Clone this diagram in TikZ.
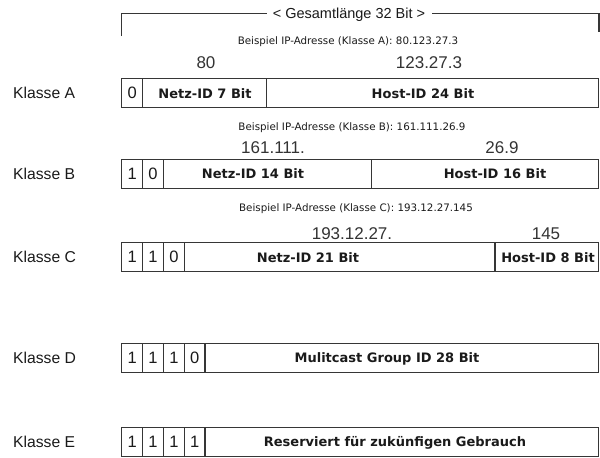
\documentclass[tikz,border=0pt]{standalone}
\usepackage{fontspec}
\setmainfont{Liberation Sans}
\newfontfamily\dvs{DejaVu Sans}
\definecolor{linec}{HTML}{363636}
\definecolor{txtc}{HTML}{1A1A1A}
\definecolor{numc}{HTML}{333333}
\tikzset{
 seg/.style={draw=linec, line width=1.35pt, minimum height=29pt, inner sep=0pt, outer sep=0pt, anchor=north west},
 bit/.style={font=\fontsize{16.5}{19}\selectfont, text=txtc, inner sep=0pt},
 klasse/.style={font=\fontsize{15.7}{18}\selectfont, anchor=base west, inner sep=0pt, text=txtc},
 fld/.style={font=\dvs\bfseries\fontsize{13}{15}\selectfont, inner sep=0pt, text=txtc, anchor=base},
 bsp/.style={font=\dvs\fontsize{10.3}{12}\selectfont, inner sep=0pt, text=txtc, anchor=base},
 num/.style={font=\fontsize{17}{20}\selectfont, inner sep=0pt, text=numc, anchor=base},
 brk/.style={draw=linec, line width=1.35pt},
}
\newcommand\ipseg[5]{\node[seg, minimum width={#3-#2}] (#1) at (#2,#4) {};
  \node[bit] (#1t) at ({(#2+#3)/2},{#4+14.5}) {#5};}
\newcommand\ipfld[4]{\node[seg, minimum width={#3-#2}] (#1) at (#2,#4) {};}
\begin{document}
\begin{tikzpicture}[x=1pt,y=-1pt]
\useasboundingbox (0,0) rectangle (600,458);
% bracket
\node[font=\fontsize{14.5}{17}\selectfont, inner sep=0pt, anchor=base, text=txtc] (title) at (349,18.2) {< Gesamtlänge 32 Bit >};
\coordinate (bl) at (121.7,36);
\coordinate (tl) at (121.7,13.3);
\coordinate (tr) at (599,13.3);
\coordinate (br) at (599,32);
\draw[brk] (bl) -- (tl) -- ([xshift=-6pt]tl -| title.west);
\draw[brk] ([xshift=7pt]tr -| title.east) -- (tr) -- (br);
% Klasse A
\node[bsp] (bspA) at (348,44.7) {Beispiel IP-Adresse (Klasse A): 80.123.27.3};
\node[num] (nA1) at (206,68.1) {80};
\node[num] (nA2) at (429,68.1) {123.27.3};
\node[klasse] (klA) at (13,98.9) {Klasse A};
\ipseg{a1}{121.7}{142.7}{78.7}{0}
\ipfld{a2}{142.7}{266.7}{78.7}
\ipfld{a3}{266.7}{598.5}{78.7}
\node[fld] (a2t) at (205,98) {Netz-ID 7 Bit};
\node[fld] (a3t) at (423,98) {Host-ID 24 Bit};
% Klasse B
\node[bsp] (bspB) at (352,130.4) {Beispiel IP-Adresse (Klasse B): 161.111.26.9};
\node[num] (nB1) at (273,153.8) {161.111.};
\node[num] (nB2) at (502,153.8) {26.9};
\node[klasse] (klB) at (13,179.4) {Klasse B};
\ipseg{b1}{121.7}{142.5}{159.2}{1}
\ipseg{b2}{142.5}{163.3}{159.2}{0}
\ipfld{b3}{163.3}{371.7}{159.2}
\ipfld{b4}{371.7}{598.5}{159.2}
\node[fld] (b3t) at (253,178.5) {Netz-ID 14 Bit};
\node[fld] (b4t) at (495,178.5) {Host-ID 16 Bit};
% Klasse C
\node[bsp] (bspC) at (356,211.7) {Beispiel IP-Adresse (Klasse C): 193.12.27.145};
\node[num] (nC1) at (352,239.4) {193.12.27.};
\node[num] (nC2) at (546,239.4) {145};
\node[klasse] (klC) at (13,262.9) {Klasse C};
\ipseg{c1}{121.7}{142.5}{242.7}{1}
\ipseg{c2}{142.5}{163.3}{242.7}{1}
\ipseg{c3}{163.3}{184.5}{242.7}{0}
\ipfld{c4}{184.5}{495}{242.7}
\ipfld{c5}{495}{598.5}{242.7}
\node[fld] (c4t) at (308,262) {Netz-ID 21 Bit};
\node[fld] (c5t) at (548,262) {Host-ID 8 Bit};
% Klasse D
\node[klasse] (klD) at (13,363.6) {Klasse D};
\ipseg{d1}{121.7}{142.5}{343.3}{1}
\ipseg{d2}{142.5}{163.3}{343.3}{1}
\ipseg{d3}{163.3}{184.5}{343.3}{1}
\ipseg{d4}{184.5}{205}{343.3}{0}
\ipfld{d5}{205}{598.5}{343.3}
\node[fld] (d5t) at (387,362.6) {Mulitcast Group ID 28 Bit};
% Klasse E
\node[klasse] (klE) at (13,447.6) {Klasse E};
\ipseg{e1}{121.7}{142.5}{427.3}{1}
\ipseg{e2}{142.5}{163.3}{427.3}{1}
\ipseg{e3}{163.3}{184.5}{427.3}{1}
\ipseg{e4}{184.5}{205}{427.3}{1}
\ipfld{e5}{205}{598.5}{427.3}
\node[fld] (e5t) at (395,446.6) {Reserviert für zukünfigen Gebrauch};
\end{tikzpicture}
\end{document}
